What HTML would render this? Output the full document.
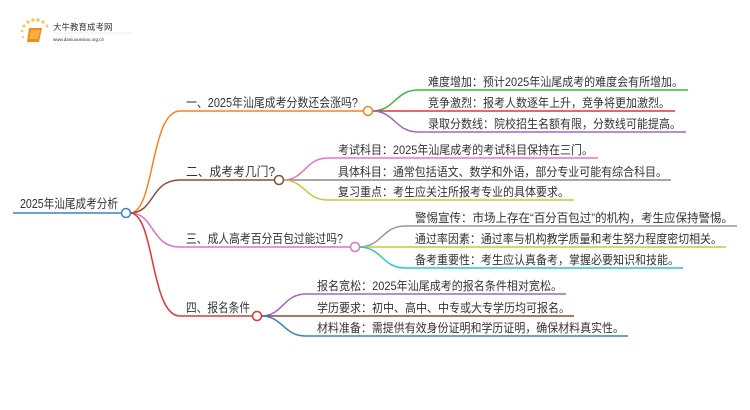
<!DOCTYPE html>
<html><head><meta charset="utf-8"><style>
html,body{margin:0;padding:0;background:#fff;}
svg{display:block;}
text{font-family:"Liberation Sans","Noto Sans CJK SC",sans-serif;fill:#333;}
</style></head><body>
<svg width="750" height="410" viewBox="0 0 750 410" xmlns="http://www.w3.org/2000/svg">
<g>
<circle cx="24" cy="26" r="1.5" fill="#f7c84a"/><circle cx="28" cy="22" r="1.6" fill="#f7c84a"/><circle cx="33" cy="20" r="1.7" fill="#f7c84a"/><circle cx="38" cy="20" r="1.7" fill="#f7c84a"/><circle cx="43" cy="22" r="1.6" fill="#f7c84a"/><circle cx="47" cy="26" r="1.5" fill="#f7c84a"/><circle cx="22" cy="31" r="1.2" fill="#f7c84a"/><circle cx="23" cy="37" r="1" fill="#f7c84a"/>
<path d="M29 28 L42 28 L39 42 L27 42 Z" fill="#f08c1a"/>
<path d="M31 30 L40 30 L38 39 L29 39 Z" fill="#f9b040"/>
<text x="53" y="30" font-size="8.5" fill="#333">大牛教育成考网</text>
<text x="53" y="41" font-size="4.5" fill="#555">www.daniuxuexiao.org.cn</text>
<line x1="53" y1="33" x2="132" y2="33" stroke="#ddd" stroke-width="0.5"/>
</g>
<g fill="none" stroke-width="1.5">
<line x1="13" y1="213" x2="122" y2="213" stroke="#3b82c4"/>
<path d="M130 213 C155 213,150 111,180 111 L364 111" stroke="#f7821e"/>
<path d="M130 213 C155 213,150 180,180 180 L275 180" stroke="#8b4a3c"/>
<path d="M130 213 C155 213,150 247,180 247 L351 247" stroke="#e070c8"/>
<path d="M130 213 C155 213,150 316,180 316 L253 316" stroke="#e03535"/>
<path d="M372 111 C395 111,395 90,418 90 L688 90" stroke="#3cb83c"/>
<path d="M372 111 L675 111" stroke="#e03535"/>
<path d="M372 111 C395 111,395 132,418 132 L686 132" stroke="#a066d0"/>
<path d="M283 180 C305 180,305 158,328 158 L598 158" stroke="#f070c8"/>
<path d="M283 180 L671 180" stroke="#888"/>
<path d="M283 180 C305 180,305 200,328 200 L574 200" stroke="#c8c83a"/>
<path d="M359 247 C382 247,382 226,405 226 L737 226" stroke="#999"/>
<path d="M359 247 L726 247" stroke="#c8c83a"/>
<path d="M359 247 C382 247,382 268,405 268 L683 268" stroke="#2ec4d8"/>
<path d="M261 316 C283 316,283 294,306 294 L566 294" stroke="#a066d0"/>
<path d="M261 316 L574 316" stroke="#8b4a3c"/>
<path d="M261 316 C283 316,283 336,306 336 L628 336" stroke="#3b82c4"/>
<circle cx="126" cy="213" r="4.5" stroke="#3b82c4" fill="#fff"/>
<circle cx="368" cy="111" r="4.5" stroke="#f7821e" fill="#fff"/>
<circle cx="279" cy="180" r="4.5" stroke="#8b4a3c" fill="#fff"/>
<circle cx="355" cy="247" r="4.5" stroke="#e070c8" fill="#fff"/>
<circle cx="257" cy="316" r="4.5" stroke="#e03535" fill="#fff"/>
</g>
<g font-size="12.5" lengthAdjust="spacingAndGlyphs">
<text x="20" y="208" textLength="98" lengthAdjust="spacingAndGlyphs">2025年汕尾成考分析</text>
<text x="186" y="107" textLength="172" lengthAdjust="spacingAndGlyphs">一、2025年汕尾成考分数还会涨吗?</text>
<text x="186" y="176" textLength="89" lengthAdjust="spacingAndGlyphs">二、成考考几门?</text>
<text x="186" y="243" textLength="157" lengthAdjust="spacingAndGlyphs">三、成人高考百分百包过能过吗?</text>
<text x="186" y="312" textLength="64" lengthAdjust="spacingAndGlyphs">四、报名条件</text>
</g>
<g font-size="12">
<text x="428" y="86" textLength="255" lengthAdjust="spacingAndGlyphs">难度增加：预计2025年汕尾成考的难度会有所增加。</text>
<text x="428" y="107" textLength="242" lengthAdjust="spacingAndGlyphs">竞争激烈：报考人数逐年上升，竞争将更加激烈。</text>
<text x="428" y="128" textLength="253" lengthAdjust="spacingAndGlyphs">录取分数线：院校招生名额有限，分数线可能提高。</text>
<text x="338" y="154" textLength="255" lengthAdjust="spacingAndGlyphs">考试科目：2025年汕尾成考的考试科目保持在三门。</text>
<text x="338" y="176" textLength="329" lengthAdjust="spacingAndGlyphs">具体科目：通常包括语文、数学和外语，部分专业可能有综合科目。</text>
<text x="338" y="196" textLength="231" lengthAdjust="spacingAndGlyphs">复习重点：考生应关注所报考专业的具体要求。</text>
<text x="415" y="222" textLength="318" lengthAdjust="spacingAndGlyphs">警惕宣传：市场上存在“百分百包过”的机构，考生应保持警惕。</text>
<text x="415" y="243" textLength="307" lengthAdjust="spacingAndGlyphs">通过率因素：通过率与机构教学质量和考生努力程度密切相关。</text>
<text x="415" y="264" textLength="264" lengthAdjust="spacingAndGlyphs">备考重要性：考生应认真备考，掌握必要知识和技能。</text>
<text x="317" y="290" textLength="245" lengthAdjust="spacingAndGlyphs">报名宽松：2025年汕尾成考的报名条件相对宽松。</text>
<text x="317" y="312" textLength="253" lengthAdjust="spacingAndGlyphs">学历要求：初中、高中、中专或大专学历均可报名。</text>
<text x="317" y="332" textLength="307" lengthAdjust="spacingAndGlyphs">材料准备：需提供有效身份证明和学历证明，确保材料真实性。</text>
</g>
</svg>
</body></html>
